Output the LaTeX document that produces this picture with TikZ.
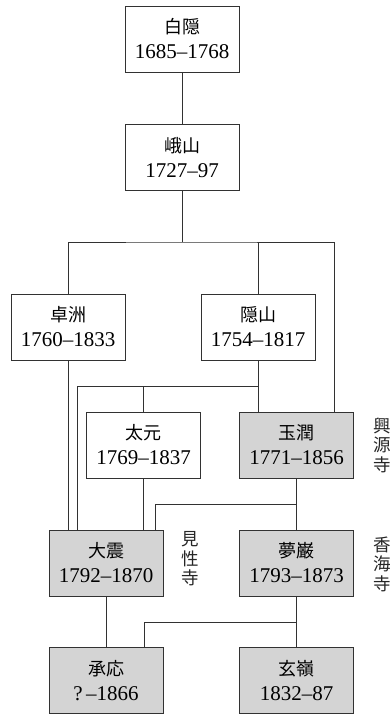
\documentclass[tikz,border=0pt]{standalone}
\usepackage{fontspec}
\setmainfont{Liberation Serif}
\newfontfamily\cjk{Noto Sans CJK JP}
\definecolor{boxgray}{RGB}{212,212,212}
\definecolor{linec}{RGB}{50,50,50}
\begin{document}
\begin{tikzpicture}[x=1pt,y=-1pt,
  person/.style={draw=linec, line width=0.9pt, minimum width=114pt, minimum height=66pt,
    inner sep=0pt, align=center, font=\fontsize{21}{25}\selectfont},
  shaded/.style={person, fill=boxgray},
  conn/.style={draw=linec, line width=0.8pt},
  templelabel/.style={align=center, inner sep=0pt, font=\fontsize{17.5}{19.5}\selectfont\cjk, text=black!85}
]
\useasboundingbox (0,0) rectangle (390,714);
\newcommand{\nm}[1]{{\cjk\fontsize{18}{25}\selectfont #1}}
\node[person]  (hakuin)   at (182,39)    {\nm{白隠}\\1685–1768};
\node[person]  (gasan)    at (182,157.5) {\nm{峨山}\\1727–97};
\node[person]  (takuju)   at (68,327)    {\nm{卓洲}\\1760–1833};
\node[person]  (inzan)    at (258,327)   {\nm{隠山}\\1754–1817};
\node[person]  (taigen)   at (143.5,445) {\nm{太元}\\1769–1837};
\node[shaded]  (gyokujun) at (296.5,445) {\nm{玉潤}\\1771–1856};
\node[shaded]  (daishin)  at (106,563)   {\nm{大震}\\1792–1870};
\node[shaded]  (mugan)    at (296.5,563) {\nm{夢巌}\\1793–1873};
\node[shaded]  (shoo)     at (106,680.5) {\nm{承応}\\?\,–1866};
\node[shaded]  (genrei)   at (296.5,680.5) {\nm{玄嶺}\\1832–87};

\node[templelabel] (kenshoji) at (190.5,559) {見\\性\\寺};
\node[templelabel] (kogenji)  at (382,445) {興\\源\\寺};
\node[templelabel] (kokaiji)  at (382,564) {香\\海\\寺};

% Hakuin -> Gasan
\draw[conn] (hakuin.south) -- (gasan.north);
% Gasan branch
\coordinate (h1) at (182,242);
\coordinate (gj1) at ([xshift=37.5pt]gyokujun.north);
\draw[conn] (gasan.south) -- (h1);
\draw[conn] (takuju.north) |- (h1) -| (gj1);
\draw[conn] (inzan.north) -- (inzan.north |- h1);
% Takuju -> Daishin
\draw[conn] (takuju.south) -- (takuju.south |- daishin.north);
% Inzan branch
\coordinate (h2) at (258,386);
\coordinate (ds1) at ([xshift=-29pt]daishin.north);
\draw[conn] (inzan.south) -- (inzan.south |- gyokujun.north);
\draw[conn] (h2) -| (ds1);
\draw[conn] (taigen.north) -- (taigen.north |- h2);
% Taigen -> Daishin
\draw[conn] (taigen.south) -- (taigen.south |- daishin.north);
% Gyokujun branch
\coordinate (h3) at (296.5,504);
\coordinate (ds2) at ([xshift=49pt]daishin.north);
\draw[conn] (gyokujun.south) -- (mugan.north);
\draw[conn] (h3) -| (ds2);
% Daishin -> Shoo
\draw[conn] (daishin.south) -- (shoo.north);
% Mugan branch
\coordinate (h4) at (296.5,622);
\coordinate (sh1) at ([xshift=38pt]shoo.north);
\draw[conn] (mugan.south) -- (genrei.north);
\draw[conn] (h4) -| (sh1);
\end{tikzpicture}
\end{document}
